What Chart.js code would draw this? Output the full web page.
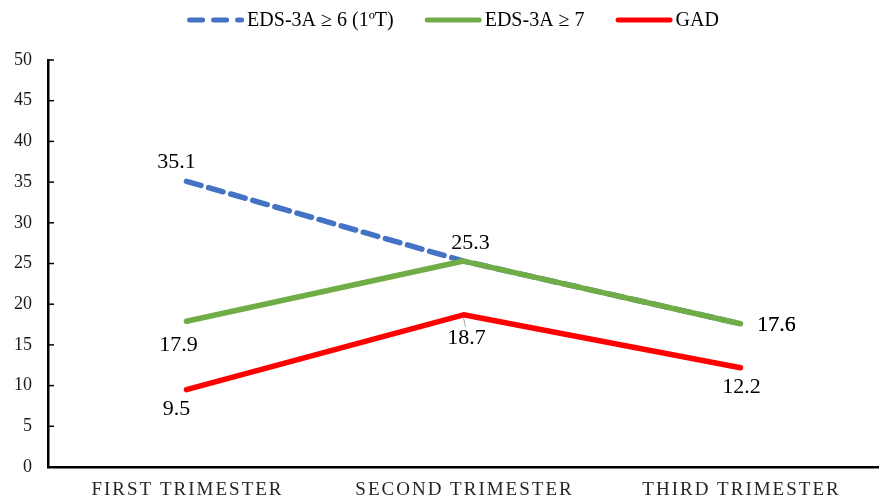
<!DOCTYPE html>
<html>
<head>
<meta charset="utf-8">
<script src="https://cdn.jsdelivr.net/npm/chart.js@4.4.1/dist/chart.umd.min.js"></script>
<style>
  html, body { margin: 0; padding: 0; background: #ffffff; }
  #wrap { width: 879px; height: 499px; }
</style>
</head>
<body>
<div id="wrap"><canvas id="chart" width="879" height="499"></canvas></div>
<script>
// Trimester categories and prevalence series (%)
const trimesters = ['FIRST TRIMESTER', 'SECOND TRIMESTER', 'THIRD TRIMESTER'];
const eds6Values = [35.1, 25.3, 17.6];
const eds7Values = [17.9, 25.3, 17.6];
const gadValues = [9.5, 18.7, 12.2];
const seriesNames = ['EDS-3A \u2265 6 (1\u00baT)', 'EDS-3A \u2265 7', 'GAD'];
const yMin = 0, yMax = 50, yStep = 5;

const SERIF = '"Liberation Serif", "Times New Roman", serif';

// Where each value label sits relative to its point (dx, dy in px); null = no label
const labelPlacement = [
  [[-10, -19], null, [36, 1]],
  [[-8, 24], [7, -18], [36, 1]],
  [[-10, 20], [3, 23], [1, 20]]
];

// Value labels beside the points
const valueLabels = {
  id: 'valueLabels',
  afterDatasetsDraw(chart) {
    const ctx = chart.ctx;
    ctx.save();
    // leader line for the GAD second-trimester label
    const redMeta = chart.getDatasetMeta(2);
    const p = redMeta.data[1];
    ctx.strokeStyle = '#a6a6a6';
    ctx.lineWidth = 1;
    ctx.beginPath();
    ctx.moveTo(p.x, p.y + 3);
    ctx.lineTo(p.x + 2, p.y + 12);
    ctx.stroke();

    ctx.font = '22px ' + SERIF;
    ctx.fillStyle = '#000000';
    ctx.textAlign = 'center';
    ctx.textBaseline = 'middle';
    chart.data.datasets.forEach((ds, di) => {
      const meta = chart.getDatasetMeta(di);
      meta.data.forEach((pt, i) => {
        const off = labelPlacement[di][i];
        if (!off) return;
        ctx.fillText(ds.data[i].toFixed(1), pt.x + off[0], pt.y + off[1]);
      });
    });
    ctx.restore();
  }
};

// Letter-spaced category labels under the x axis
const categoryLabels = {
  id: 'categoryLabels',
  afterDraw(chart) {
    const ctx = chart.ctx;
    const xs = chart.scales.x;
    ctx.save();
    ctx.font = '19px ' + SERIF;
    ctx.fillStyle = '#262626';
    ctx.textAlign = 'center';
    ctx.textBaseline = 'middle';
    if ('letterSpacing' in ctx) ctx.letterSpacing = '2px';
    trimesters.forEach((t, i) => {
      ctx.fillText(t, xs.getPixelForValue(i) + 1, chart.chartArea.bottom + 23);
    });
    ctx.restore();
  }
};

// Inner tick marks on the y axis
const innerTicks = {
  id: 'innerTicks',
  afterDraw(chart) {
    const ctx = chart.ctx;
    const ys = chart.scales.y;
    const x0 = chart.chartArea.left;
    ctx.save();
    ctx.strokeStyle = '#000000';
    ctx.lineWidth = 1.5;
    ys.ticks.forEach(t => {
      const y = ys.getPixelForValue(t.value);
      ctx.beginPath();
      ctx.moveTo(x0, y);
      ctx.lineTo(x0 + 6, y);
      ctx.stroke();
    });
    ctx.restore();
  }
};

// Legend row along the top
const topLegend = {
  id: 'topLegend',
  afterDraw(chart) {
    const ctx = chart.ctx;
    const lineLen = 57, gapText = 3, gapItem = 31, cy = 20, centerX = 453;
    ctx.save();
    ctx.font = '20px ' + SERIF;
    const items = chart.data.datasets.map(ds => ({
      label: ds.label, color: ds.borderColor, dash: ds.borderDash || [],
      w: ctx.measureText(ds.label).width
    }));
    let total = 0;
    items.forEach((it, i) => { total += lineLen + gapText + it.w + (i ? gapItem : 0); });
    let x = centerX - total / 2;
    items.forEach(it => {
      ctx.strokeStyle = it.color;
      ctx.lineWidth = 5;
      ctx.lineCap = 'round';
      ctx.setLineDash(it.dash.length ? [13, 11] : []);
      ctx.beginPath();
      ctx.moveTo(x + 2.5, cy);
      ctx.lineTo(x + lineLen - 2.5, cy);
      ctx.stroke();
      ctx.setLineDash([]);
      ctx.fillStyle = '#000000';
      ctx.textAlign = 'left';
      ctx.textBaseline = 'middle';
      ctx.fillText(it.label, x + lineLen + gapText, cy + 1);
      x += lineLen + gapText + it.w + gapItem;
    });
    ctx.restore();
  }
};

const lineStyle = {
  borderWidth: 5.5,
  borderCapStyle: 'round',
  borderJoinStyle: 'round',
  pointRadius: 0,
  pointHoverRadius: 0,
  fill: false,
  tension: 0
};

new Chart(document.getElementById('chart'), {
  type: 'line',
  data: {
    labels: trimesters,
    datasets: [
      Object.assign({ label: seriesNames[0], data: eds6Values, borderColor: '#4472C4', borderDash: [15, 8], order: 3 }, lineStyle),
      Object.assign({ label: seriesNames[1], data: eds7Values, borderColor: '#70AD47', order: 2 }, lineStyle),
      Object.assign({ label: seriesNames[2], data: gadValues, borderColor: '#FF0000', order: 1 }, lineStyle)
    ]
  },
  options: {
    responsive: false,
    animation: false,
    devicePixelRatio: 1,
    layout: { padding: { top: 60, right: 0, bottom: 0, left: 0 } },
    plugins: {
      legend: { display: false },
      tooltip: { enabled: false }
    },
    scales: {
      x: {
        type: 'category',
        offset: true,
        grid: { display: false, drawTicks: false },
        border: { display: true, color: '#000000', width: 2.5 },
        ticks: { display: false },
        afterFit(s) { s.height = 32; }
      },
      y: {
        min: yMin,
        max: yMax,
        grid: { display: false, drawTicks: false },
        border: { display: true, color: '#000000', width: 2.5 },
        ticks: {
          stepSize: yStep,
          padding: 16,
          color: '#1a1a1a',
          font: { family: SERIF, size: 18 }
        },
        afterFit(s) { s.width = 48; }
      }
    }
  },
  plugins: [valueLabels, categoryLabels, innerTicks, topLegend]
});
</script>
</body>
</html>
